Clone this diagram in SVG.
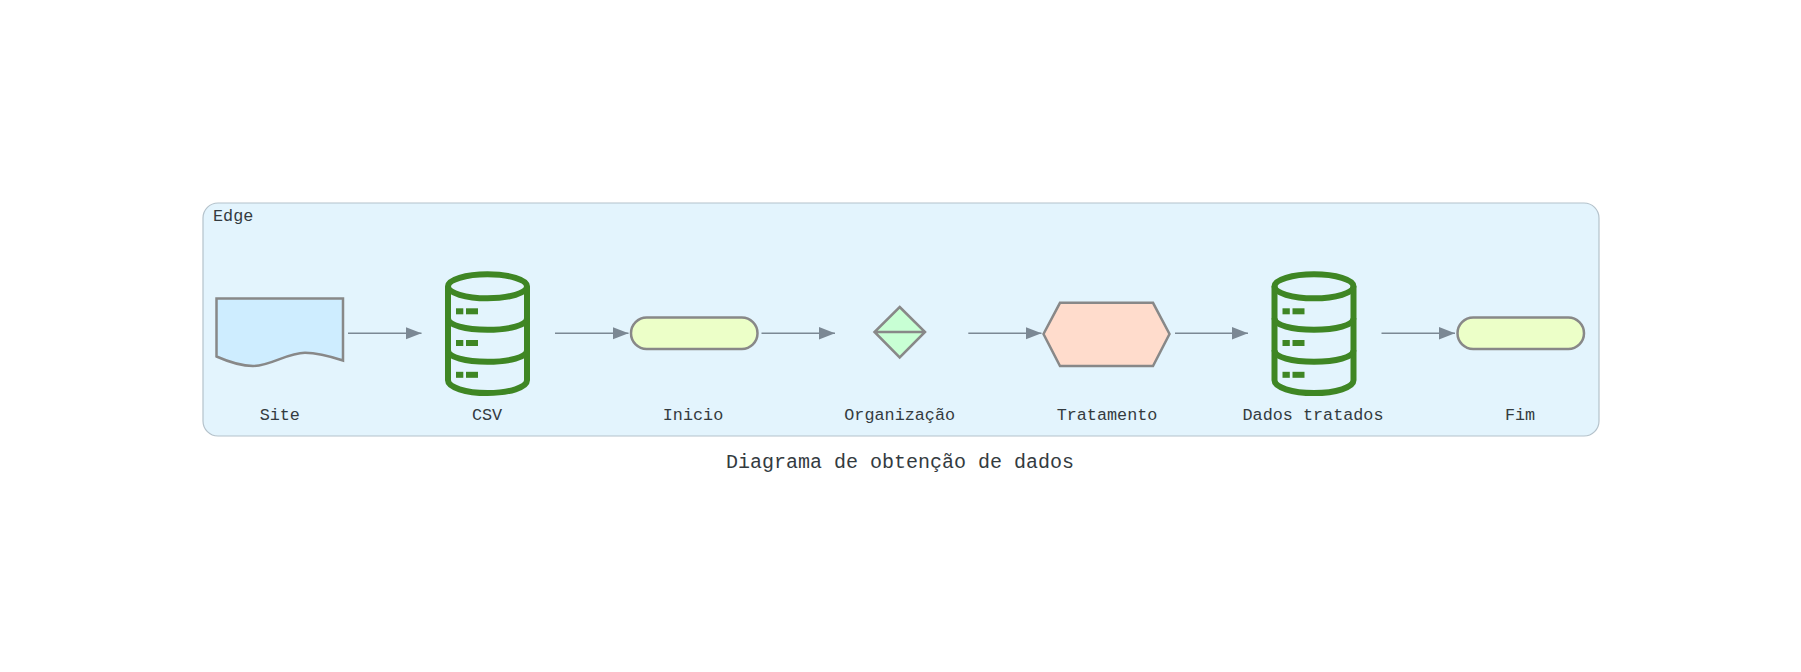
<svg xmlns="http://www.w3.org/2000/svg" width="1801" height="672" viewBox="0 0 1801 672">
  <style>
    text { font-family: "Liberation Mono", "DejaVu Sans Mono", monospace; fill: #343b3f; text-anchor: middle; }
    .label { font-size: 16.8px; }
    .caption { font-size: 20px; }
    .shape { stroke: #888888; stroke-width: 2.5; }
    .pill { fill: #ecffc8; }
    .edge { stroke: #7b8894; stroke-width: 1.5; fill: none; marker-end: url(#arrow); }
    .db { fill: none; stroke: #3f8624; stroke-width: 6; stroke-linejoin: round; }
    .dbmark { fill: #3f8624; }
  </style>
  <defs>
    <marker id="arrow" markerUnits="userSpaceOnUse" markerWidth="16" markerHeight="14" refX="16" refY="7" orient="auto">
      <path d="M0,0.800 L16,7 L0,13.200 Z" fill="#7b8894"/>
    </marker>
    <g id="dbicon">
      <ellipse class="db" cx="0" cy="-47" rx="39.500" ry="12"/>
      <path class="db" d="M-39.500,-47 V47 C-39.500,54 -22,59.700 0,59.700 C22,59.700 39.500,54 39.500,47 V-47"/>
      <path class="db" d="M-39.500,-15 C-39.500,-8 -22,-3.500 0,-3.500 C22,-3.500 39.500,-8 39.500,-15"/>
      <path class="db" d="M-39.500,17 C-39.500,24 -22,28.500 0,28.500 C22,28.500 39.500,24 39.500,17"/>
      <rect class="dbmark" x="-31.500" y="-25" width="7.300" height="6"/>
      <rect class="dbmark" x="-21.500" y="-25" width="12" height="6"/>
      <rect class="dbmark" x="-31.500" y="6.700" width="7.300" height="6"/>
      <rect class="dbmark" x="-21.500" y="6.700" width="12" height="6"/>
      <rect class="dbmark" x="-31.500" y="38.500" width="7.300" height="6"/>
      <rect class="dbmark" x="-21.500" y="38.500" width="12" height="6"/>
    </g>
  </defs>
  <rect width="1801" height="672" fill="#ffffff"/>
  <g id="cluster-edge">
    <rect x="203" y="203" width="1396" height="233" rx="15" ry="15" fill="#e3f4fd" stroke="#b4c2cb" stroke-width="1.200"/>
    <text class="label" x="213" y="220.500" style="text-anchor:start">Edge</text>
  </g>
  <g id="connectors">
    <line class="edge" x1="348" y1="333.300" x2="421.500" y2="333.300"/>
    <line class="edge" x1="555" y1="333.300" x2="628.500" y2="333.300"/>
    <line class="edge" x1="761.500" y1="333.300" x2="835" y2="333.300"/>
    <line class="edge" x1="968.300" y1="333.300" x2="1041.500" y2="333.300"/>
    <line class="edge" x1="1175" y1="333.300" x2="1248" y2="333.300"/>
    <line class="edge" x1="1381.500" y1="333.300" x2="1455" y2="333.300"/>
  </g>
  <g id="site">
    <path class="shape" fill="#ceedff" d="M216.500,298.500 H343 V360.500 C331,356.500 318,352.700 305,352.700 C287,352.700 271,366 253,366 C241,366 229,362 216.500,356.500 Z"/>
    <text class="label" x="279.800" y="419.500">Site</text>
  </g>
  <g id="csv">
    <use href="#dbicon" x="487.500" y="333.300"/>
    <text class="label" x="487" y="419.500">CSV</text>
  </g>
  <g id="inicio">
    <rect class="shape pill" x="631" y="317.500" width="126.500" height="31.500" rx="15.700" ry="15.700"/>
    <text class="label" x="693" y="419.500">Inicio</text>
  </g>
  <g id="organizacao">
    <path class="shape" fill="#c8ffd4" d="M899.700,307 L925,332 L899.700,357.500 L874.500,332 Z M874.500,332 H925"/>
    <text class="label" x="899.700" y="419.500">Organização</text>
  </g>
  <g id="tratamento">
    <path class="shape" fill="#ffdccc" d="M1060,302.800 H1153 L1169.500,334 L1153,366 H1060 L1043.500,334 Z"/>
    <text class="label" x="1107" y="419.500">Tratamento</text>
  </g>
  <g id="dados-tratados">
    <use href="#dbicon" x="1314" y="333.300"/>
    <text class="label" x="1313" y="419.500">Dados tratados</text>
  </g>
  <g id="fim">
    <rect class="shape pill" x="1457.500" y="317.500" width="126.500" height="31.500" rx="15.700" ry="15.700"/>
    <text class="label" x="1520" y="419.500">Fim</text>
  </g>
  <text id="caption" class="caption" x="900" y="468">Diagrama de obtenção de dados</text>
</svg>
